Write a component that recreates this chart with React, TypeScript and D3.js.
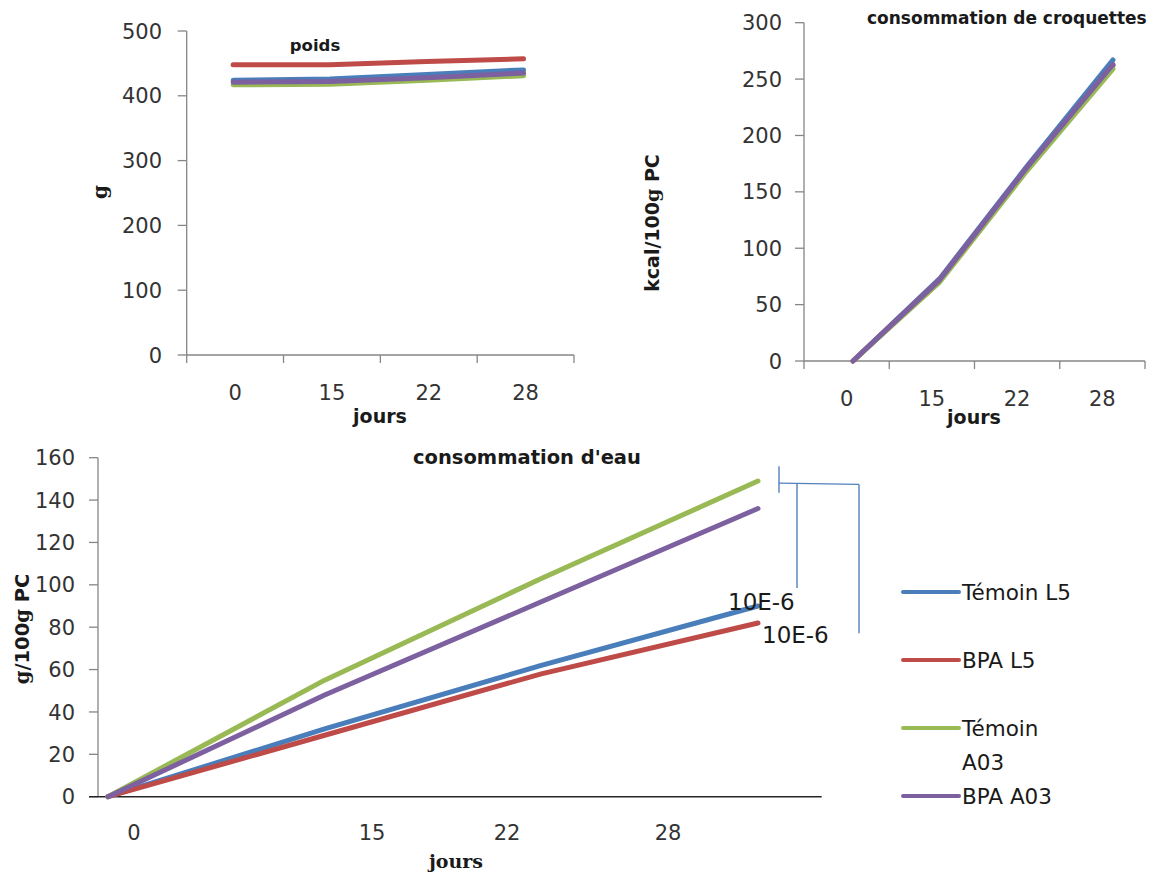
import React from "react";
import * as d3 from "d3";

// ---------- DATA ----------
const days = ["0", "15", "22", "28"];
const seriesNames = ["Témoin L5", "BPA L5", "Témoin A03", "BPA A03"];
const seriesColors = ["#4a7ebb", "#be4b48", "#98b954", "#7d60a0"];

// poids (g)
const poidsTemoinL5 = [424, 426, 433, 440];
const poidsBpaL5 = [448, 448, 453, 457];
const poidsTemoinA03 = [417, 418, 424, 431];
const poidsBpaA03 = [421, 422, 428, 435];

// consommation de croquettes (kcal/100g PC)
const croqTemoinL5 = [0, 73, 172, 267];
const croqBpaL5 = [0, 72, 170, 262];
const croqTemoinA03 = [0, 70, 168, 259];
const croqBpaA03 = [0, 72, 171, 263];

// consommation d'eau (g/100g PC)
const eauTemoinL5 = [0, 32, 62, 90];
const eauBpaL5 = [0, 29, 58, 82];
const eauTemoinA03 = [0, 55, 103, 149];
const eauBpaA03 = [0, 48, 92, 136];

const poidsTicks = [0, 100, 200, 300, 400, 500];
const croqTicks = [0, 50, 100, 150, 200, 250, 300];
const eauTicks = [0, 20, 40, 60, 80, 100, 120, 140, 160];

const annotationLabel = "10E-6";

// ---------- LAYOUT ----------
const SANS = "'DejaVu Sans', sans-serif";
const SERIF = "'DejaVu Serif', serif";
const AXIS = "#868686";
const TXT = "#333333";
const TICK_FS = 21;
const LINE_W = 5;

// bottom chart typed-in tick label positions (offsets from plot left)
const eauLabelX = [134, 372, 507, 668];

const lineGen = (xf: (i: number) => number, y: d3.ScaleLinear<number, number>) =>
  d3
    .line<number>()
    .x((_, i) => xf(i))
    .y((d) => y(d));

function YAxis({ x, y, ticks, labelRight }: { x: number; y: d3.ScaleLinear<number, number>; ticks: number[]; labelRight: number }) {
  const [r0, r1] = y.range();
  return (
    <g>
      <line x1={x} x2={x} y1={r0} y2={r1} stroke={AXIS} strokeWidth={1.3} />
      {ticks.map((t) => (
        <g key={t}>
          <line x1={x - 9} x2={x} y1={y(t)} y2={y(t)} stroke={AXIS} strokeWidth={1.3} />
          <text x={labelRight} y={y(t)} dy="0.36em" textAnchor="end" fontFamily={SANS} fontSize={TICK_FS} fill={TXT}>
            {t}
          </text>
        </g>
      ))}
    </g>
  );
}

function BandXAxis({ x, y0, labelY }: { x: d3.ScaleBand<string>; y0: number; labelY: number }) {
  const [a, b] = x.range();
  const bw = x.bandwidth();
  const bounds = d3.range(days.length + 1).map((i) => a + i * bw);
  return (
    <g>
      <line x1={a} x2={b} y1={y0} y2={y0} stroke={AXIS} strokeWidth={1.3} />
      {bounds.map((bx, i) => (
        <line key={i} x1={bx} x2={bx} y1={y0} y2={y0 + 8} stroke={AXIS} strokeWidth={1.3} />
      ))}
      {days.map((d) => (
        <text key={d} x={(x(d) as number) + bw / 2} y={labelY} dy="0.36em" textAnchor="middle" fontFamily={SANS} fontSize={TICK_FS} fill={TXT}>
          {d}
        </text>
      ))}
    </g>
  );
}

function Lines({ data, xf, y }: { data: number[][]; xf: (i: number) => number; y: d3.ScaleLinear<number, number> }) {
  const lg = lineGen(xf, y);
  return (
    <g>
      {data.map((s, k) => (
        <path key={k} d={lg(s) || ""} fill="none" stroke={seriesColors[k]} strokeWidth={LINE_W} strokeLinecap="round" strokeLinejoin="round" />
      ))}
    </g>
  );
}

export default function App() {
  // ---- Panel A: poids ----
  const yA = d3.scaleLinear().domain([0, 500]).range([355, 31]);
  const xA = d3.scaleBand<string>().domain(days).range([186.7, 574]);
  const xAf = (i: number) => (xA(days[i]) as number) + xA.bandwidth() / 2 - 2;
  const poids = [poidsTemoinL5, poidsBpaL5, poidsTemoinA03, poidsBpaA03];

  // ---- Panel B: croquettes ----
  const yB = d3.scaleLinear().domain([0, 300]).range([361, 22.7]);
  const xB = d3.scaleBand<string>().domain(days).range([804, 1145]);
  const xBp = d3.scalePoint<string>().domain(days).range([853, 1113]);
  const xBf = (i: number) => xBp(days[i]) as number;
  const croq = [croqTemoinL5, croqBpaL5, croqTemoinA03, croqBpaA03];

  // ---- Panel C: eau ----
  const yC = d3.scaleLinear().domain([0, 160]).range([796.7, 457.7]);
  const xCp = d3.scalePoint<string>().domain(days).range([108, 758]);
  const xCf = (i: number) => xCp(days[i]) as number;
  const eau = [eauTemoinL5, eauBpaL5, eauTemoinA03, eauBpaA03];
  const xEnd = xCp(days[days.length - 1]) as number;

  const legendX = 903;
  const legendY0 = 592;
  const legendStep = 68;

  return (
    <svg width={1166} height={877} style={{ position: "absolute", left: 0, top: 0, display: "block", background: "#fff" }}>
      <rect width={1166} height={877} fill="#fff" />

      {/* Panel A */}
      <g>
        <YAxis x={186.7} y={yA} ticks={poidsTicks} labelRight={162} />
        <BandXAxis x={xA} y0={355} labelY={392} />
        <Lines data={poids} xf={xAf} y={yA} />
        <text x={315} y={45} dy="0.36em" textAnchor="middle" fontFamily={SANS} fontWeight="bold" fontSize={16.5} fill="#1a1a1a">
          poids
        </text>
        <text x={380} y={417} dy="0.3em" textAnchor="middle" fontFamily={SANS} fontWeight="bold" fontSize={19} fill="#1a1a1a">
          jours
        </text>
        <text transform="translate(103,192) rotate(-90)" textAnchor="middle" dy="0.2em" fontFamily={SERIF} fontWeight="bold" fontSize={20} fill="#1a1a1a">
          g
        </text>
      </g>

      {/* Panel B */}
      <g>
        <YAxis x={804} y={yB} ticks={croqTicks} labelRight={782} />
        <BandXAxis x={xB} y0={361} labelY={398} />
        <Lines data={croq} xf={xBf} y={yB} />
        <text x={867} y={18} dy="0.36em" textAnchor="start" fontFamily={SANS} fontWeight="bold" fontSize={17} fill="#1a1a1a">
          consommation de croquettes
        </text>
        <text x={974} y={418} dy="0.3em" textAnchor="middle" fontFamily={SANS} fontWeight="bold" fontSize={19} fill="#1a1a1a">
          jours
        </text>
        <text transform="translate(652,223) rotate(-90)" textAnchor="middle" dy="0.36em" fontFamily={SANS} fontWeight="bold" fontSize={19} fill="#1a1a1a">
          kcal/100<tspan fontFamily={SERIF}>g</tspan> PC
        </text>
      </g>

      {/* Panel C */}
      <g>
        <YAxis x={98} y={yC} ticks={eauTicks} labelRight={75} />
        <line x1={89} x2={821.7} y1={yC(0)} y2={yC(0)} stroke="#262626" strokeWidth={1.6} />
        {days.map((d, i) => (
          <text key={d} x={eauLabelX[i]} y={832} dy="0.36em" textAnchor="middle" fontFamily={SANS} fontSize={TICK_FS} fill={TXT}>
            {d}
          </text>
        ))}
        <Lines data={eau} xf={xCf} y={yC} />
        <text x={413} y={457} dy="0.36em" textAnchor="start" fontFamily={SANS} fontWeight="bold" fontSize={19.5} fill="#1a1a1a">
          consommation d'eau
        </text>
        <text x={456} y={862} dy="0.3em" textAnchor="middle" fontFamily={SERIF} fontWeight="bold" fontSize={19} fill="#1a1a1a">
          jours
        </text>
        <text transform="translate(22,629) rotate(-90)" textAnchor="middle" dy="0.36em" fontFamily={SANS} fontWeight="bold" fontSize={19.5} fill="#1a1a1a">
          <tspan fontFamily={SERIF}>g</tspan>/100<tspan fontFamily={SERIF}>g</tspan> PC
        </text>

        {/* significance brackets */}
        <g stroke="#4f81bd" strokeWidth={1.4} fill="none">
          <line x1={xEnd + 21} x2={xEnd + 21} y1={yC(156)} y2={yC(143.5)} />
          <line x1={xEnd + 21} x2={xEnd + 101} y1={yC(148)} y2={yC(147.4)} />
          <line x1={xEnd + 39} x2={xEnd + 39} y1={yC(148)} y2={yC(98.5)} />
          <line x1={xEnd + 101} x2={xEnd + 101} y1={yC(147.4)} y2={yC(77.2)} />
        </g>
        <text x={xEnd - 30} y={yC(92)} dy="0.36em" fontFamily={SANS} fontSize={23} fill="#1a1a1a">
          {annotationLabel}
        </text>
        <text x={xEnd + 4} y={yC(76.5)} dy="0.36em" fontFamily={SANS} fontSize={23} fill="#1a1a1a">
          {annotationLabel}
        </text>
      </g>

      {/* Legend */}
      <g>
        {seriesNames.map((name, i) => {
          const ly = legendY0 + i * legendStep;
          const parts = name === "Témoin A03" ? ["Témoin", "A03"] : [name];
          return (
            <g key={name}>
              <line x1={legendX} x2={legendX + 56} y1={ly} y2={ly} stroke={seriesColors[i]} strokeWidth={4} strokeLinecap="round" />
              <text x={legendX + 59} y={ly} dy="0.36em" fontFamily={SANS} fontSize={21.5} fill="#1a1a1a">
                {parts.map((p, j) => (
                  <tspan key={j} x={legendX + 59} dy={j === 0 ? "0.36em" : "1.6em"}>
                    {p}
                  </tspan>
                ))}
              </text>
            </g>
          );
        })}
      </g>
    </svg>
  );
}
